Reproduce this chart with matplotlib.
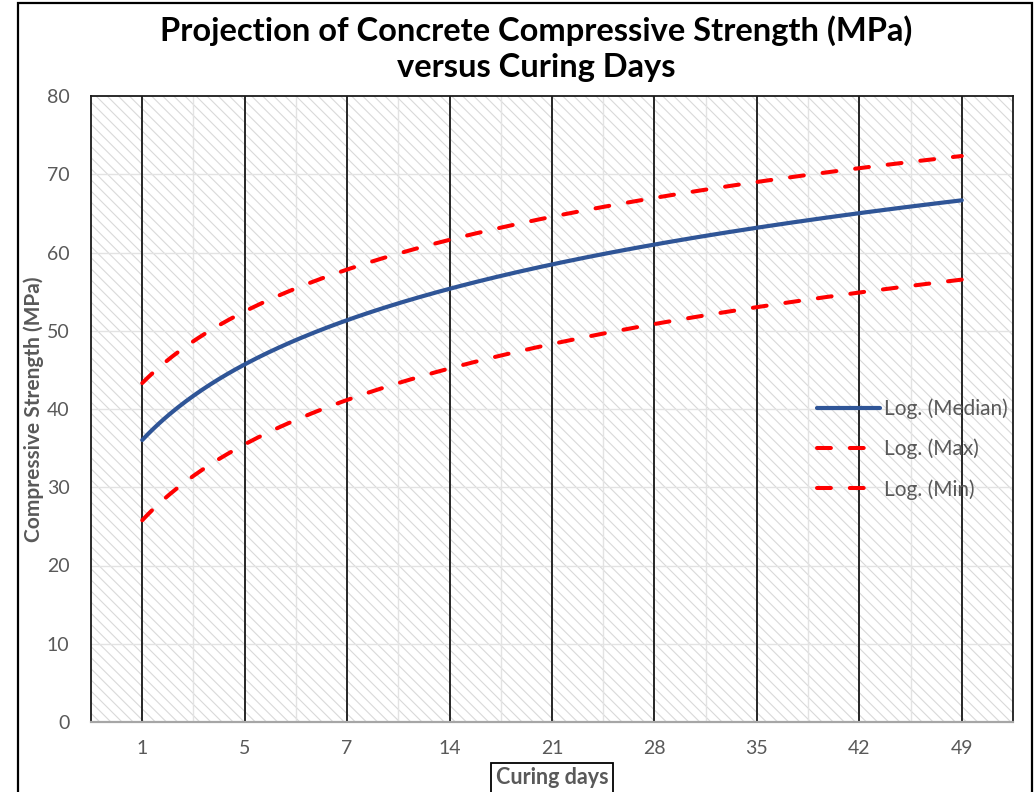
import numpy as np
import matplotlib
matplotlib.use("Agg")
import matplotlib.pyplot as plt
from matplotlib.patches import Rectangle
from matplotlib.lines import Line2D

plt.rcParams['font.family'] = ['Lato', 'DejaVu Sans']
plt.rcParams['hatch.linewidth'] = 0.8

# ---- data ----
days = ['1', '5', '7', '14', '21', '28', '35', '42', '49']
median = [36.0, 45.7, 51.4, 55.4, 58.5, 61.0, 63.1, 65.0, 66.7]
maximum = [43.3, 52.5, 57.8, 61.6, 64.6, 67.0, 69.0, 70.8, 72.3]
minimum = [25.8, 35.5, 41.1, 45.2, 48.3, 50.8, 53.0, 54.9, 56.6]
series_labels = ['Log. (Median)', 'Log. (Max)', 'Log. (Min)']
yticks = [0, 10, 20, 30, 40, 50, 60, 70, 80]

W, H = 1036, 792
fig = plt.figure(figsize=(W / 100, H / 100), dpi=100)
fig.patch.set_facecolor('white')

L, R, T, B = 91, 1013, 96, 722
ax = fig.add_axes([L / W, 1 - B / H, (R - L) / W, (B - T) / H])
ax.set_facecolor('white')

# hatched plot-area background
bg = Rectangle((0, 0), 1, 1, transform=ax.transAxes, facecolor='white',
               edgecolor='#d9d9d9', hatch='\\\\\\', linewidth=0, zorder=0)
ax.add_patch(bg)

x = np.arange(1, len(days) + 1)
ax.set_xlim(0.5, len(days) + 0.5)
ax.set_ylim(0, 80)

# gridlines
for v in yticks[1:-1]:
    ax.axhline(v, color='#e3e3e3', lw=1.0, zorder=1)
for xv in np.arange(1.5, len(days), 1.0):
    ax.axvline(xv, color='#e3e3e3', lw=1.0, zorder=1)
for xv in x:
    ax.axvline(xv, color='#262626', lw=1.4, zorder=2)

# log trendlines fitted to the series
xf = np.linspace(1, len(days), 300)
def trend(vals):
    a, b = np.polyfit(np.log(x), np.asarray(vals), 1)
    return a * np.log(xf) + b

DASH = (3.45, 4.7)
ax.plot(xf, trend(median), color='#2F5597', lw=3.0, solid_capstyle='round', zorder=4)
ax.plot(xf, trend(maximum), color='#FF0000', lw=2.9, dashes=DASH,
        dash_capstyle='round', zorder=4)
ax.plot(xf, trend(minimum), color='#FF0000', lw=2.9, dashes=DASH,
        dash_capstyle='round', zorder=4)

# ticks
ax.set_xticks(x)
ax.set_xticklabels(days)
ax.set_yticks(yticks)
ax.tick_params(axis='both', length=0, labelsize=14, labelcolor='#595959')
ax.tick_params(axis='y', pad=15.5)
ax.tick_params(axis='x', pad=12.7)

# spines
for s in ['top', 'left', 'right']:
    ax.spines[s].set_color('#1a1a1a')
    ax.spines[s].set_linewidth(1.3)
ax.spines['bottom'].set_color('#a6a6a6')
ax.spines['bottom'].set_linewidth(1.6)
for s in ax.spines.values():
    s.set_zorder(5)

# labels
ax.set_ylabel('Compressive Strength (MPa)', fontsize=15, fontweight='bold',
              color='#595959')
ax.yaxis.set_label_coords((44 - L) / (R - L), 0.5)

fig.text(552 / W, 1 - 778 / H, 'Curing days', ha='center', va='center',
         fontsize=15.5, fontweight='bold', color='#595959',
         bbox=dict(boxstyle='square,pad=0.22', facecolor='white',
                   edgecolor='black', linewidth=1.3))

fig.text(536 / W, 1 - 49 / H,
         'Projection of Concrete Compressive Strength (MPa)\nversus Curing Days',
         ha='center', va='center', fontsize=23.5, fontweight='bold',
         color='black', linespacing=1.3)

# legend
handles = [
    Line2D([], [], color='#2F5597', lw=3.0, solid_capstyle='round'),
    Line2D([], [], color='#FF0000', lw=2.9, dashes=DASH, dash_capstyle='round'),
    Line2D([], [], color='#FF0000', lw=2.9, dashes=DASH, dash_capstyle='round'),
]
leg = ax.legend(handles, series_labels, loc='center left',
                bbox_to_anchor=((817 - L) / (R - L), 1 - (449 - T) / (B - T)),
                frameon=False, fontsize=15, handlelength=3.0,
                handletextpad=0.22, labelspacing=0.95, borderpad=0,
                borderaxespad=0, labelcolor='#595959')
leg.set_zorder(6)

# outer chart border
fig.add_artist(Rectangle((18 / W, -0.05), (1032 - 18) / W, 1.05 - 3 / H,
                         transform=fig.transFigure, facecolor='none',
                         edgecolor='black', linewidth=1.6, clip_on=False))

fig.savefig('out.png', dpi=100)
